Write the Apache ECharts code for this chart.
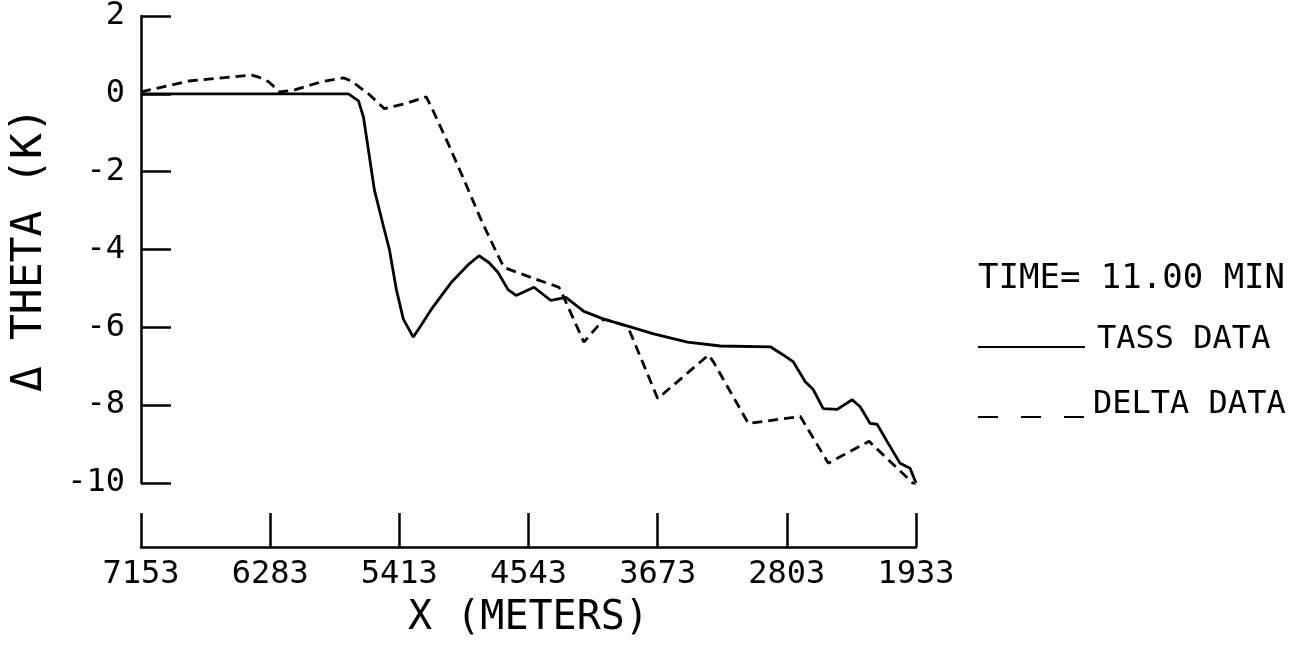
<!DOCTYPE html>
<html>
<head>
<meta charset="utf-8">
<script src="https://cdn.jsdelivr.net/npm/echarts@6/dist/echarts.min.js"></script>
<style>
html,body{margin:0;padding:0;background:#fff;}
#chart{width:1315px;height:645px;}
</style>
</head>
<body>
<div id="chart"></div>
<script>
// X (METERS) tick values
const xTicks = [7153, 6283, 5413, 4543, 3673, 2803, 1933];
// Y tick range
const yMin = -10, yMax = 2, yStep = 2;

// TASS DATA (solid)
const tassX = [7153,5756,5688,5655,5621,5581,5521,5480,5433,5386,5319,5265,5198,5064,4949,4876,4808,4748,4681,4627,4506,4392,4291,4170,4036,3875,3700,3472,3250,2914,2827,2759,2679,2625,2558,2464,2363,2309,2242,2195,2128,2041,1973,1933];
const tassY = [0,0,-0.18,-0.59,-1.45,-2.47,-3.39,-4.0,-5.03,-5.79,-6.25,-5.94,-5.54,-4.85,-4.39,-4.16,-4.34,-4.59,-5.03,-5.18,-4.97,-5.31,-5.23,-5.59,-5.79,-5.97,-6.17,-6.38,-6.48,-6.5,-6.71,-6.89,-7.4,-7.6,-8.09,-8.11,-7.86,-8.04,-8.47,-8.49,-8.93,-9.49,-9.62,-10.0];

// DELTA DATA (dashed)
const deltaX = [7153,6831,6407,6360,6293,6219,6118,5937,5789,5736,5621,5514,5379,5232,5198,5084,4976,4862,4748,4708,4526,4338,4311,4170,4036,3875,3673,3330,3297,3062,2712,2524,2249,1933];
const deltaY = [0.05,0.33,0.48,0.43,0.31,0.05,0.1,0.31,0.41,0.33,0,-0.38,-0.26,-0.08,-0.33,-1.28,-2.22,-3.24,-4.16,-4.46,-4.72,-4.97,-5.18,-6.38,-5.79,-5.97,-7.83,-6.71,-6.89,-8.47,-8.29,-9.49,-8.93,-10.08];

const timeLabel = 'TIME= 11.00 MIN';
const seriesNames = ['TASS DATA', 'DELTA DATA'];
const xName = 'X (METERS)';
const yName = '\u0394 THETA (K)';

const FONT = "'DejaVu Sans Mono', monospace";
const zip = (a, b) => a.map((v, i) => [v, b[i]]);

const chart = echarts.init(document.getElementById('chart'), null, {renderer: 'canvas'});
chart.setOption({
  animation: false,
  backgroundColor: '#fff',
  grid: {left: 136, right: 399, top: 13, bottom: 162, containLabel: false},
  xAxis: {
    type: 'value',
    inverse: true,
    min: Math.min(...xTicks),
    max: Math.max(...xTicks),
    offset: 64,
    name: xName,
    nameLocation: 'middle',
    nameGap: 52,
    nameTextStyle: {fontFamily: FONT, fontSize: 40, color: '#000'},
    axisLine: {onZero: false, lineStyle: {color: '#000', width: 2.5}},
    axisTick: {inside: true, length: 34, customValues: xTicks, lineStyle: {color: '#000', width: 2.5}},
    axisLabel: {customValues: xTicks, margin: 12, fontFamily: FONT, fontSize: 32, color: '#000',
      formatter: v => String(v)},
    splitLine: {show: false}
  },
  yAxis: {
    type: 'value',
    min: yMin,
    max: yMax,
    interval: yStep,
    name: yName,
    nameLocation: 'middle',
    nameRotate: 90,
    nameGap: 90,
    nameTextStyle: {fontFamily: FONT, fontSize: 43, color: '#000'},
    axisLine: {onZero: false, lineStyle: {color: '#000', width: 2.5}},
    axisTick: {inside: true, length: 30, lineStyle: {color: '#000', width: 2.5}},
    axisLabel: {margin: 16, fontFamily: FONT, fontSize: 32, color: '#000'},
    splitLine: {show: false}
  },
  series: [
    {
      name: seriesNames[0], type: 'line', data: zip(tassX, tassY),
      showSymbol: false, smooth: false,
      lineStyle: {color: '#000', width: 2.8}
    },
    {
      name: seriesNames[1], type: 'line', data: zip(deltaX, deltaY),
      showSymbol: false, smooth: false,
      lineStyle: {color: '#000', width: 2.8, type: [10, 6]}
    }
  ],
  graphic: [
    {type: 'text', left: 978, top: 262, style: {text: timeLabel, font: "34px 'DejaVu Sans Mono', monospace", fill: '#000'}},
    {type: 'line', shape: {x1: 978, y1: 347, x2: 1085, y2: 347}, style: {stroke: '#000', lineWidth: 2}},
    {type: 'text', left: 1097, top: 324, style: {text: seriesNames[0], font: "32px 'DejaVu Sans Mono', monospace", fill: '#000'}},
    {type: 'line', shape: {x1: 978, y1: 417, x2: 1085, y2: 417}, style: {stroke: '#000', lineWidth: 2, lineDash: [20, 23]}},
    {type: 'text', left: 1093, top: 389, style: {text: seriesNames[1], font: "32px 'DejaVu Sans Mono', monospace", fill: '#000'}}
  ]
});
</script>
</body>
</html>
